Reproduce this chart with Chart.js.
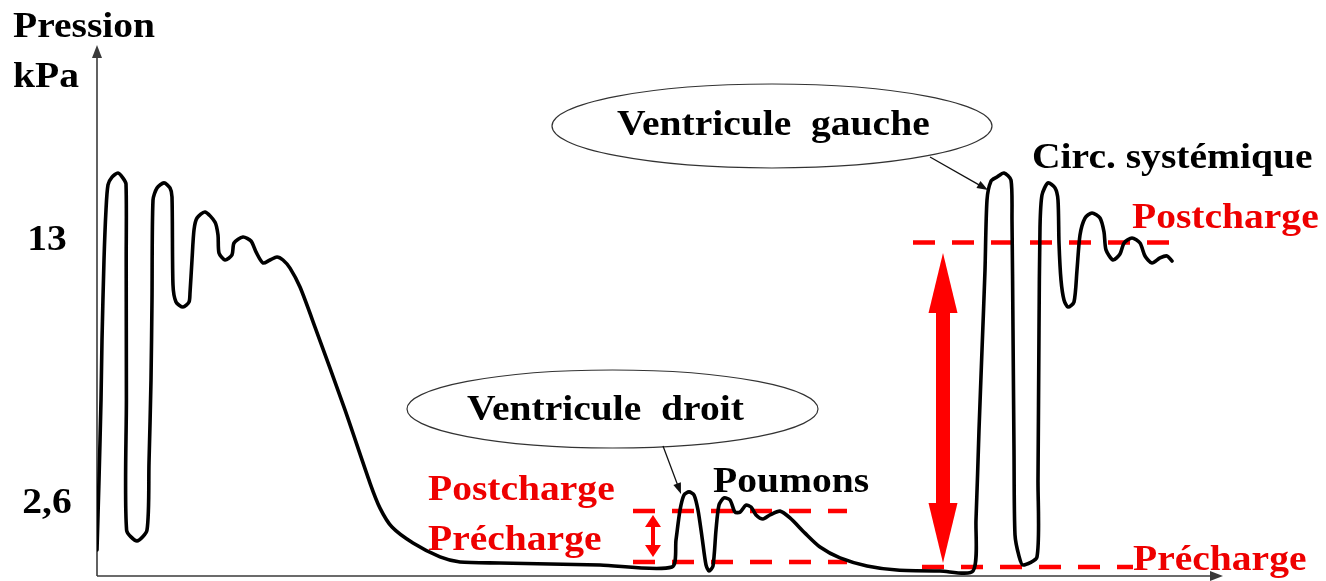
<!DOCTYPE html>
<html>
<head>
<meta charset="utf-8">
<script src="https://cdn.jsdelivr.net/npm/chart.js"></script>
<style>
html,body{margin:0;padding:0;background:#fff;}
#wrap{width:1326px;height:581px;position:relative;}
</style>
</head>
<body>
<div id="wrap"><canvas id="c"></canvas></div>
<script>
// Time axis (arbitrary units) and pressure (kPa)
const time = [0,2,4,5,7,9,11,15,21,26,29,29.2,29.4,29.6,40,50,52,54,55,56,60,67,73,75,76,79,86,92,93,95,97,100,108,118,121,122,128,135,137,146,154,159,166,173,180,186,193,203,218,248,273,283,295,316,343,363,403,503,575,579,583,587,592,597,601,605,609,612,616,619,622,627,633,638,643,649,654,659,666,673,683,693,708,723,743,770,800,843,876,879,882,885,888,890,894,900,907,914,915,916,917,918,922,926,940,941,942,943,945,951,958,961,962,964,967,971,977,980,983,988,995,1003,1007,1009,1016,1023,1027,1035,1043,1048,1055,1063,1070,1075];
const pressure = [0.70,3.47,6.63,9.01,12.17,14.15,15.14,15.45,15.61,15.41,15.18,12.17,6.63,1.49,1.06,1.49,4.14,7.42,10.59,14.54,15.02,15.22,15.02,14.66,11.18,10.51,10.31,10.51,10.87,12.17,13.36,13.83,14.07,13.67,13.16,12.45,12.17,12.37,12.84,13.08,12.92,12.49,12.05,12.17,12.29,12.17,11.85,11.10,9.52,6.24,3.35,2.36,1.61,0.98,0.43,0.23,0.19,0.11,0.03,1.10,2.28,2.88,3.00,2.88,2.28,1.22,0.11,-0.13,0.07,1.49,2.48,2.76,2.68,2.20,2.20,2.48,2.40,2.09,1.93,2.09,2.24,1.97,1.37,0.82,0.39,0.07,-0.09,-0.13,-0.13,1.89,5.45,8.61,11.77,14.54,15.29,15.45,15.61,15.33,13.75,9.40,4.66,1.30,0.46,0.11,0.43,3.47,9.40,13.47,14.74,15.22,15.02,14.54,12.84,11.38,10.59,10.31,10.51,11.77,13.16,13.83,14.03,13.83,13.28,12.57,12.17,12.41,12.84,13.04,12.84,12.33,12.05,12.25,12.33,12.13];

// Reference (dashed) levels: [label, kPa, tStart, tEnd]
const refNames  = ['LV postcharge','LV précharge','RV postcharge','RV précharge'];
const refLevels = [12.86, 0.03, 2.24, 0.23];
const refStart  = [816, 825, 536, 536];
const refEnd    = [1075, 1036, 750, 750];

// Double-headed red arrows: time, from kPa, to kPa
const arrowTime = [846, 556];
const arrowTop  = [12.45, 2.09];
const arrowBot  = [0.19, 0.43];

// Y tick labels
const yTickValues = [13, 2.6];
const yTickLabels = ['13', '2,6'];

const Y_MIN = -0.326, Y_MAX = 20.593, X_MIN = 0, X_MAX = 1125;

const datasets = [{
  label: 'Pression',
  data: time.map((t,i)=>({x:t,y:pressure[i]})),
  borderColor:'#000', borderWidth:3.6, pointRadius:0, tension:0.25, fill:false,
  borderCapStyle:'round', borderJoinStyle:'round', order:0
}];
refLevels.forEach((v,i)=>{
  datasets.push({
    label: refNames[i],
    data:[{x:refStart[i],y:v},{x:refEnd[i],y:v}],
    borderColor:'#ff0000', borderWidth:4.5, borderDash:[22,17], pointRadius:0,
    tension:0, fill:false, borderCapStyle:'butt', order:1
  });
});

const FONT = "bold 35px 'Liberation Serif', 'Times New Roman', serif";
const SX = 1.13;
function txt(ctx, s, x, y, color, align){
  ctx.save();
  ctx.font = FONT; ctx.fillStyle = color; ctx.textBaseline='alphabetic';
  ctx.textAlign = align || 'left';
  ctx.translate(x,y); ctx.scale(SX,1);
  ctx.fillText(s,0,0);
  ctx.restore();
}
function lineArrow(ctx,x1,y1,x2,y2,len,wid,color,lw){
  const a=Math.atan2(y2-y1,x2-x1);
  ctx.save();
  ctx.strokeStyle=color; ctx.fillStyle=color; ctx.lineWidth=lw;
  ctx.beginPath(); ctx.moveTo(x1,y1);
  ctx.lineTo(x2-Math.cos(a)*len*0.8,y2-Math.sin(a)*len*0.8); ctx.stroke();
  ctx.translate(x2,y2); ctx.rotate(a);
  ctx.beginPath(); ctx.moveTo(0,0); ctx.lineTo(-len,-wid/2); ctx.lineTo(-len,wid/2); ctx.closePath(); ctx.fill();
  ctx.restore();
}
function dblArrow(ctx,x,yt,yb,shaft,headLen,headW,color){
  ctx.save(); ctx.fillStyle=color;
  ctx.fillRect(x-shaft/2,yt+headLen-1,shaft,(yb-yt)-2*headLen+2);
  ctx.beginPath(); ctx.moveTo(x,yt); ctx.lineTo(x-headW/2,yt+headLen); ctx.lineTo(x+headW/2,yt+headLen); ctx.closePath(); ctx.fill();
  ctx.beginPath(); ctx.moveTo(x,yb); ctx.lineTo(x-headW/2,yb-headLen); ctx.lineTo(x+headW/2,yb-headLen); ctx.closePath(); ctx.fill();
  ctx.restore();
}

const deco = {
  id:'deco',
  beforeDatasetsDraw(chart){
    const ctx=chart.ctx, a=chart.chartArea;
    ctx.save();
    ctx.strokeStyle='#3a3a3a'; ctx.fillStyle='#3a3a3a'; ctx.lineWidth=1.6;
    // y axis
    ctx.beginPath(); ctx.moveTo(a.left,a.bottom); ctx.lineTo(a.left,a.top+8); ctx.stroke();
    ctx.beginPath(); ctx.moveTo(a.left,a.top-2); ctx.lineTo(a.left-5,a.top+11); ctx.lineTo(a.left+5,a.top+11); ctx.closePath(); ctx.fill();
    // x axis
    ctx.beginPath(); ctx.moveTo(a.left,a.bottom); ctx.lineTo(a.right-8,a.bottom); ctx.stroke();
    ctx.beginPath(); ctx.moveTo(a.right+1,a.bottom); ctx.lineTo(a.right-12,a.bottom-5); ctx.lineTo(a.right-12,a.bottom+5); ctx.closePath(); ctx.fill();
    ctx.restore();
  },
  afterDatasetsDraw(chart){
    const ctx=chart.ctx, xs=chart.scales.x, ys=chart.scales.y;
    // axis title
    txt(ctx,'Pression',13,37,'#000');
    txt(ctx,'kPa',13,87,'#000');
    // y tick labels
    yTickValues.forEach((v,i)=>txt(ctx,yTickLabels[i],47,ys.getPixelForValue(v)+11,'#000','center'));
    // red arrows
    arrowTime.forEach((t,i)=>{
      const x=xs.getPixelForValue(t), yt=ys.getPixelForValue(arrowTop[i]), yb=ys.getPixelForValue(arrowBot[i]);
      if(i===0) dblArrow(ctx,x,yt,yb,14,60,29,'#ff0000');
      else dblArrow(ctx,x,yt,yb,4,12,16,'#ff0000');
    });
    // ellipses
    ctx.save(); ctx.strokeStyle='#333'; ctx.lineWidth=1.2;
    ctx.beginPath(); ctx.ellipse(772,126,220,42,0,0,Math.PI*2); ctx.stroke();
    ctx.beginPath(); ctx.ellipse(612.5,409,205.5,39,0,0,Math.PI*2); ctx.stroke();
    ctx.restore();
    // callout arrows
    lineArrow(ctx,930,157,988,190,11,8,'#111',1.3);
    lineArrow(ctx,663,446,681,494,11,8,'#111',1.3);
    // labels
    txt(ctx,'Ventricule  gauche',617,135,'#000');
    txt(ctx,'Ventricule  droit',467,420,'#000');
    txt(ctx,'Circ. systémique',1032,168,'#000');
    txt(ctx,'Poumons',713,492,'#000');
    txt(ctx,'Postcharge',1132,228,'#ee0000');
    txt(ctx,'Précharge',1133,570,'#ee0000');
    txt(ctx,'Postcharge',428,500,'#ee0000');
    txt(ctx,'Précharge',428,550,'#ee0000');
  }
};

new Chart(document.getElementById('c'),{
  type:'line',
  data:{datasets},
  options:{
    responsive:true, maintainAspectRatio:false, animation:false,
    layout:{padding:{left:97,right:104,top:47,bottom:5}},
    plugins:{legend:{display:false},tooltip:{enabled:false}},
    scales:{
      x:{type:'linear',min:X_MIN,max:X_MAX,display:false},
      y:{type:'linear',min:Y_MIN,max:Y_MAX,display:false}
    }
  },
  plugins:[deco]
});
</script>
</body>
</html>
